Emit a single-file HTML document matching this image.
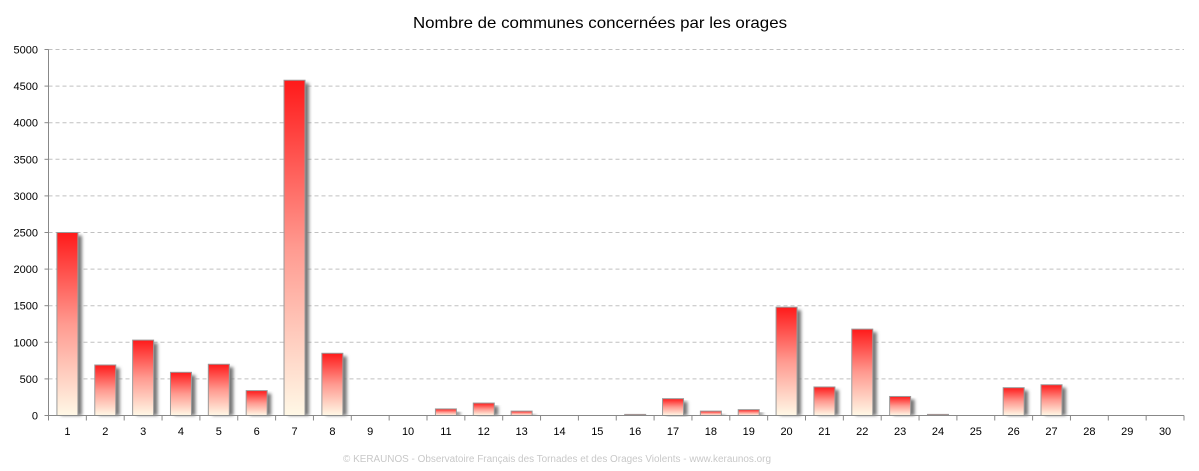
<!DOCTYPE html>
<html><head><meta charset="utf-8"><style>
html,body{margin:0;padding:0;background:#fff;width:1199px;height:471px;overflow:hidden}
svg{display:block;font-family:"Liberation Sans",sans-serif}
</style></head><body>
<svg id="c" width="1199" height="471" viewBox="0 0 1199 471">
<defs>
<linearGradient id="g" x1="0" y1="0" x2="0" y2="1">
<stop offset="0" stop-color="#ff1a1a"/><stop offset="0.5" stop-color="#ff9a90"/><stop offset="1" stop-color="#fff8e6"/>
</linearGradient>
<filter id="sh" x="-30%" y="-10%" width="160%" height="120%"><feGaussianBlur stdDeviation="1.5"/></filter>
</defs>
<text x="600" y="28" text-anchor="middle" font-size="16" textLength="374" lengthAdjust="spacingAndGlyphs" fill="#000">Nombre de communes concernées par les orages</text>
<g id="grid"></g><g id="bars"></g><g id="axes"></g>
<text x="557" y="462" text-anchor="middle" font-size="10" fill="#c8c8c8" textLength="428" lengthAdjust="spacingAndGlyphs">© KERAUNOS - Observatoire Français des Tornades et des Orages Violents - www.keraunos.org</text>
</svg>
<script>
var ns="http://www.w3.org/2000/svg";
function el(p,t,a,txt){var e=document.createElementNS(ns,t);for(var k in a)e.setAttribute(k,a[k]);if(txt!=null)e.textContent=txt;document.getElementById(p).appendChild(e);return e;}
var x0=48.5,x1=1184,y0=415.5,y5=49.5,sc=(y0-y5)/5000,w=(x1-x0)/30;
for(var v=0;v<=5000;v+=500){var y=y0-v*sc;
 if(v>0)el("grid","line",{x1:x0,x2:x1,y1:y,y2:y,stroke:"#c0c0c0","stroke-dasharray":"4,3","stroke-width":1});
 el("axes","text",{x:38,y:y+4,"text-anchor":"end","font-size":"11",fill:"#000"},v);
 el("axes","line",{x1:x0-4,x2:x0,y1:y,y2:y,stroke:"#888"});}
var d=[2500,690,1030,590,700,340,4580,850,3,2,90,170,60,5,5,15,230,60,80,1480,390,1180,260,15,5,380,420,3,3,3];
for(var i=0;i<30;i++){var cx=x0+w*(i+0.5),h=d[i]*sc,bx=cx-10.5,by=y0-h;
 if(h>0.5){el("bars","rect",{x:bx+4,y:by+3,width:21,height:h-3,fill:"#777",filter:"url(#sh)"});
 el("bars","rect",{x:bx,y:by,width:21,height:h,fill:"url(#g)",stroke:"#9a9a9a","stroke-width":1});}
 el("axes","text",{x:cx,y:435,"text-anchor":"middle","font-size":"11",fill:"#000"},i+1);
 el("axes","line",{x1:x0+w*(i+1),x2:x0+w*(i+1),y1:y0,y2:y0+5,stroke:"#888"});}
el("axes","line",{x1:x0,x2:x0,y1:y5,y2:y0+5,stroke:"#888"});
el("axes","line",{x1:x0,x2:x1,y1:y0,y2:y0,stroke:"#888"});
</script>
</body></html>
